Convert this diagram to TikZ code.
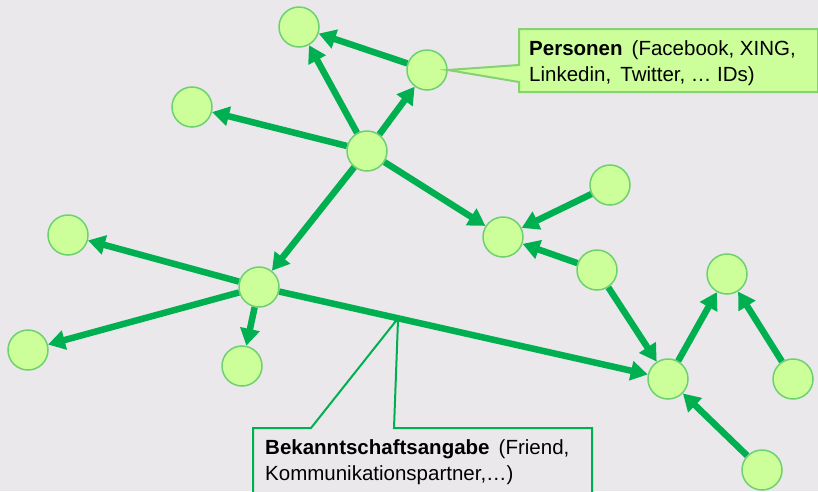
\documentclass[tikz,border=0pt]{standalone}
\usepackage{fontspec}
\setmainfont{Liberation Sans}
\usetikzlibrary{arrows.meta,calc}
\definecolor{bg}{HTML}{EAE8EB}
\definecolor{edgegreen}{HTML}{00B050}
\definecolor{nodefill}{HTML}{CCFF99}
\definecolor{nodeline}{HTML}{6ED170}
\definecolor{calloutline}{HTML}{86D272}
\tikzset{
  person/.style={circle, draw=nodeline, fill=nodefill, line width=1.5pt,
    minimum size=40pt, inner sep=0pt},
  link/.style={draw=edgegreen, line width=6.5pt,
    -{Triangle[length=17pt,width=19pt]}},
  notetext/.style={align=left, anchor=base west, inner sep=0pt,
    font=\fontsize{20.5pt}{26pt}\selectfont},
}
\begin{document}
\begin{tikzpicture}[x=1pt,y=-1pt]
  \fill[bg] (0,0) rectangle (818,491);
  \useasboundingbox (0,0) rectangle (818,491);

  % people
  \node[person] (A) at (299,27) {};
  \node[person] (B) at (427,70) {};
  \node[person] (C) at (192,107) {};
  \node[person] (D) at (367,151) {};
  \node[person] (E) at (610,185) {};
  \node[person] (F) at (503,237) {};
  \node[person] (G) at (68,235) {};
  \node[person] (H) at (259,287) {};
  \node[person] (I) at (597,270) {};
  \node[person] (J) at (727,274) {};
  \node[person] (K) at (28,350) {};
  \node[person] (L) at (242,366) {};
  \node[person] (M) at (668,379) {};
  \node[person] (N) at (793,379) {};
  \node[person] (O) at (762,470) {};

  % acquaintance links
  \draw[link] (B) -- (A);
  \draw[link] (D) -- (A);
  \draw[link] (D) -- (B);
  \draw[link] (D) -- (C);
  \draw[link] (D) -- (F);
  \draw[link] (D) -- (H);
  \draw[link] (E) -- (F);
  \draw[link] (I) -- (F);
  \draw[link] (I) -- (M);
  \draw[link] (H) -- (G);
  \draw[link] (H) -- (K);
  \draw[link] (H) -- (L);
  \draw[link] (H) -- (M);
  \draw[link] (M) -- (J);
  \draw[link] (N) -- (J);
  \draw[link] (O) -- (M);

  % callout for persons (anchor is the baseline of the last line)
  \draw[calloutline, fill=nodefill, line width=2pt, line join=miter]
    (519,29) -- (818,29) -- (818,92) -- (519,92) -- (519,82)
    -- (B.east) -- (519,65) -- cycle;
  \node[notetext] (pers) at (529,81)
    {\textbf{Personen}\, (Facebook, XING,\\Linkedin,\, Twitter, \dots\ IDs)};

  % callout for links
  \coordinate (tip) at ($(H)!0.34!(M)$);
  \draw[edgegreen, fill=bg, line width=2pt, line join=miter]
    (253,428) -- (311,428) -- (tip) -- (394,428) -- (592,428)
    -- (592,495) -- (253,495) -- cycle;
  \node[notetext] (link) at (265,480)
    {\textbf{Bekanntschaftsangabe}\, (Friend,\\Kommunikationspartner,\dots)};
\end{tikzpicture}
\end{document}
